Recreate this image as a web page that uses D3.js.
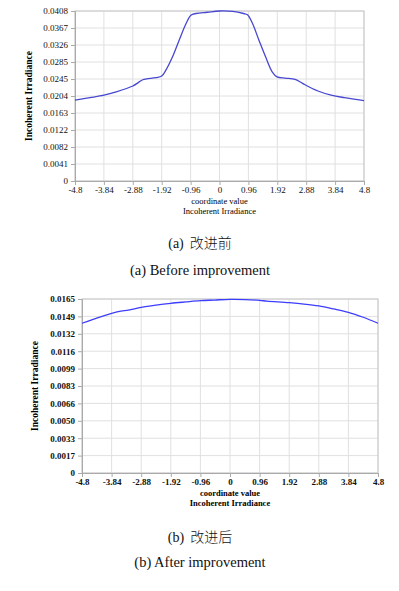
<!DOCTYPE html>
<html>
<head>
<meta charset="utf-8">
<script src="https://cdn.jsdelivr.net/npm/d3@7"></script>
<style>
  body { margin: 0; background: #fff; }
  svg { display: block; }
</style>
</head>
<body>
<svg id="chart"></svg>
<script>
var w = 399;
var h = 591;

// x ticks shared by both plots
var xTicks = [-4.8, -3.84, -2.88, -1.92, -0.96, 0, 0.96, 1.92, 2.88, 3.84, 4.8];
var xTickLabels = ["-4.8", "-3.84", "-2.88", "-1.92", "-0.96", "0", "0.96", "1.92", "2.88", "3.84", "4.8"];

// (a) before improvement
var xA = [-4.8, -4.3, -3.84, -3.43, -2.88, -2.7, -2.55, -2.11, -1.92, -1.78, -1.56, -1.34, -1.11, -0.95, -0.78, -0.4, 0, 0.44, 0.8, 0.93, 1.09, 1.31, 1.53, 1.75, 1.91, 2.18, 2.51, 2.7, 2.84, 3.27, 3.71, 4.15, 4.8];
var yA = [0.0194, 0.0200, 0.0206, 0.0214, 0.0228, 0.0236, 0.0243, 0.0248, 0.0252, 0.0266, 0.0298, 0.0338, 0.0378, 0.0398, 0.0402, 0.0405, 0.0408, 0.0407, 0.0402, 0.0399, 0.0379, 0.0338, 0.0298, 0.0262, 0.0250, 0.0247, 0.0244, 0.0237, 0.0231, 0.0216, 0.0206, 0.0200, 0.0193];
var yTicksA = ["0", "0.0041", "0.0082", "0.0122", "0.0163", "0.0204", "0.0245", "0.0285", "0.0326", "0.0367", "0.0408"];
var yMaxA = 0.0408;

// (b) after improvement
var xB = [-4.8, -4.3, -3.84, -3.54, -3.3, -2.88, -2.4, -1.92, -1.44, -0.96, -0.5, 0, 0.5, 0.96, 1.2, 1.92, 2.4, 2.88, 3.36, 3.84, 4.32, 4.8];
var yB = [0.01420, 0.01472, 0.01514, 0.01536, 0.01545, 0.01571, 0.01592, 0.01609, 0.01622, 0.01634, 0.01640, 0.01647, 0.01645, 0.01637, 0.01630, 0.01615, 0.01602, 0.01584, 0.01556, 0.01524, 0.01477, 0.01420];
var yTicksB = ["0", "0.0017", "0.0033", "0.0050", "0.0066", "0.0083", "0.0099", "0.0116", "0.0132", "0.0149", "0.0165"];
var yMaxB = 0.0165;

var svg = d3.select("#chart")
  .attr("width", w)
  .attr("height", h);

svg.append("rect")
  .attr("width", w)
  .attr("height", h)
  .attr("fill", "#fff");

function makePlot(opt){
  var xScale = d3.scaleLinear()
    .domain([-4.8, 4.8])
    .range([opt.left, opt.right]);
  var yScale = d3.scaleLinear()
    .domain([0, opt.yMax])
    .range([opt.bottom, opt.top]);

  var yVals = opt.yLabels.map(function(d, i){ return opt.yMax * i / 10; });

  var g = svg.append("g");

  // grid
  g.selectAll(".vgrid")
    .data(xTicks)
    .enter()
    .append("line")
    .attr("x1", function(d){ return xScale(d); })
    .attr("x2", function(d){ return xScale(d); })
    .attr("y1", opt.top)
    .attr("y2", opt.bottom)
    .attr("stroke", "#e0e0e0")
    .attr("stroke-width", 1);

  g.selectAll(".hgrid")
    .data(yVals)
    .enter()
    .append("line")
    .attr("x1", opt.left)
    .attr("x2", opt.right)
    .attr("y1", function(d){ return yScale(d); })
    .attr("y2", function(d){ return yScale(d); })
    .attr("stroke", "#e0e0e0")
    .attr("stroke-width", 1);

  g.append("rect")
    .attr("x", opt.left)
    .attr("y", opt.top)
    .attr("width", opt.right - opt.left)
    .attr("height", opt.bottom - opt.top)
    .attr("fill", "none")
    .attr("stroke", "#c8c8c8")
    .attr("stroke-width", 1);

  var xAxis = d3.axisBottom(xScale)
    .tickValues(xTicks)
    .tickSize(4)
    .tickPadding(2)
    .tickFormat(function(d, i){ return xTickLabels[i]; });

  var yAxis = d3.axisLeft(yScale)
    .tickValues(yVals)
    .tickSize(4)
    .tickPadding(3)
    .tickFormat(function(d, i){ return opt.yLabels[i]; });

  var gx = g.append("g")
    .attr("transform", "translate(0," + opt.bottom + ")")
    .call(xAxis);
  var gy = g.append("g")
    .attr("transform", "translate(" + opt.left + ",0)")
    .call(yAxis);

  [gx, gy].forEach(function(a){
    a.select(".domain").attr("stroke", "#aaa");
    a.selectAll(".tick line").attr("stroke", "#aaa");
    a.selectAll(".tick text")
      .attr("fill", "#111")
      .attr("font-family", "'Liberation Serif', serif")
      .attr("font-size", "9px")
      .attr("font-weight", opt.bold ? "bold" : "normal");
  });

  var line = d3.line()
    .x(function(d){ return xScale(d[0]); })
    .y(function(d){ return yScale(d[1]); })
    .curve(d3.curveCatmullRom.alpha(0.5));

  g.append("path")
    .datum(d3.zip(opt.xs, opt.ys))
    .attr("d", line)
    .attr("fill", "none")
    .attr("stroke", opt.color)
    .attr("stroke-width", 1.3);

  var mid = (opt.left + opt.right) / 2;
  g.append("text")
    .attr("x", mid)
    .attr("y", opt.bottom + 23)
    .attr("text-anchor", "middle")
    .attr("font-family", "'Liberation Serif', serif")
    .attr("font-size", "8.5px")
    .attr("font-weight", opt.bold ? "bold" : "normal")
    .text("coordinate value");
  g.append("text")
    .attr("x", mid)
    .attr("y", opt.bottom + 33)
    .attr("text-anchor", "middle")
    .attr("font-family", "'Liberation Serif', serif")
    .attr("font-size", "8.5px")
    .attr("font-weight", opt.bold ? "bold" : "normal")
    .text("Incoherent Irradiance");

  g.append("text")
    .attr("transform", "translate(" + opt.titleX + "," + ((opt.top + opt.bottom) / 2) + ") rotate(-90)")
    .attr("text-anchor", "middle")
    .attr("font-family", "'Liberation Serif', serif")
    .attr("font-size", "9.5px")
    .attr("font-weight", "bold")
    .text("Incoherent Irradiance");

  g.append("text")
    .attr("x", 200)
    .attr("y", opt.cap1)
    .attr("text-anchor", "middle")
    .attr("font-size", "14px")
    .attr("fill", "#111")
    .html('<tspan font-family="Liberation Serif, serif">' + opt.tag + '</tspan><tspan dx="6" font-family="Noto Sans CJK SC" font-weight="300">' + opt.zh + '</tspan>');

  g.append("text")
    .attr("x", 200)
    .attr("y", opt.cap2)
    .attr("text-anchor", "middle")
    .attr("font-family", "'Liberation Serif', serif")
    .attr("font-size", "14.5px")
    .attr("fill", "#111")
    .text(opt.tag + " " + opt.en);
}

makePlot({
  left: 75, right: 364, top: 11, bottom: 181,
  yMax: yMaxA, yLabels: yTicksA, xs: xA, ys: yA,
  color: "#4747d1", bold: false, titleX: 32,
  cap1: 248, cap2: 275, tag: "(a)", zh: "改进前", en: "Before improvement"
});

makePlot({
  left: 82, right: 378, top: 299, bottom: 473,
  yMax: yMaxB, yLabels: yTicksB, xs: xB, ys: yB,
  color: "#3d3dff", bold: true, titleX: 38,
  cap1: 542, cap2: 567, tag: "(b)", zh: "改进后", en: "After improvement"
});
</script>
</body>
</html>
